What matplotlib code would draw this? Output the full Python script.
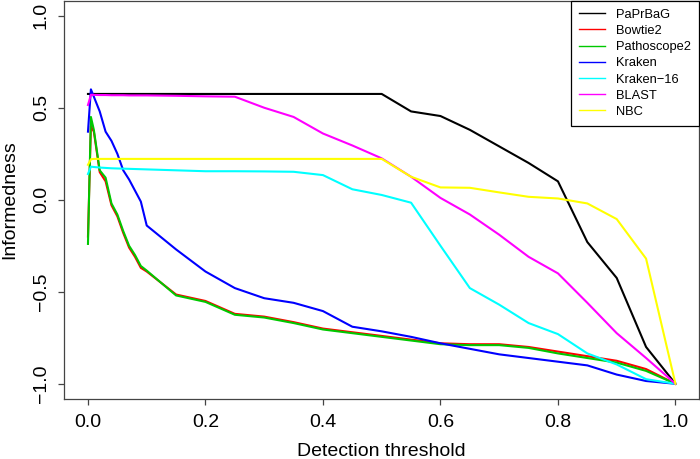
import matplotlib
matplotlib.use("Agg")
import matplotlib.pyplot as plt
from matplotlib.lines import Line2D

plt.rcParams['font.family'] = ['Liberation Sans', 'DejaVu Sans']

# detection thresholds (shared by all methods)
thr = [0, 0.005, 0.01, 0.02, 0.03, 0.04, 0.05, 0.06, 0.07, 0.08, 0.09, 0.1,
       0.15, 0.2, 0.25, 0.3, 0.35, 0.4, 0.45, 0.5, 0.55, 0.6, 0.65, 0.7,
       0.75, 0.8, 0.85, 0.9, 0.95, 1.0]

paprbag = [0.575, 0.575, 0.575, 0.575, 0.575, 0.575, 0.575, 0.575, 0.575, 0.575, 0.575, 0.575,
           0.575, 0.575, 0.575, 0.575, 0.575, 0.575, 0.575, 0.575, 0.48, 0.455, 0.38, 0.29,
           0.20, 0.10, -0.23, -0.425, -0.80, -1.0]
bowtie2 = [-0.20, 0.40, 0.37, 0.15, 0.10, -0.03, -0.09, -0.18, -0.26, -0.31, -0.37, -0.39,
           -0.515, -0.55, -0.62, -0.635, -0.665, -0.70, -0.72, -0.74, -0.76, -0.78, -0.785, -0.785,
           -0.80, -0.825, -0.85, -0.875, -0.92, -1.0]
pathoscope2 = [-0.24, 0.45, 0.38, 0.16, 0.12, -0.02, -0.08, -0.17, -0.25, -0.30, -0.36, -0.385,
               -0.52, -0.555, -0.625, -0.64, -0.67, -0.705, -0.725, -0.745, -0.765, -0.785, -0.79, -0.79,
               -0.805, -0.835, -0.86, -0.885, -0.93, -1.0]
kraken = [0.37, 0.60, 0.56, 0.48, 0.37, 0.32, 0.25, 0.16, 0.11, 0.05, -0.01, -0.14,
          -0.27, -0.39, -0.48, -0.535, -0.56, -0.605, -0.69, -0.715, -0.745, -0.78, -0.81, -0.84,
          -0.86, -0.88, -0.90, -0.95, -0.985, -1.0]
kraken16 = [0.14, 0.18, 0.178, 0.175, 0.173, 0.171, 0.17, 0.169, 0.168, 0.167, 0.166, 0.165,
            0.16, 0.155, 0.155, 0.154, 0.152, 0.134, 0.057, 0.026, -0.016, -0.25, -0.48, -0.57,
            -0.67, -0.73, -0.835, -0.895, -0.975, -1.0]
blast = [0.515, 0.57, 0.57, 0.569, 0.569, 0.568, 0.568, 0.568, 0.567, 0.567, 0.567, 0.567,
         0.565, 0.562, 0.56, 0.50, 0.45, 0.36, 0.295, 0.225, 0.125, 0.01, -0.08, -0.19,
         -0.31, -0.40, -0.56, -0.725, -0.86, -1.0]
nbc = [0.19, 0.22, 0.222, 0.222, 0.222, 0.222, 0.222, 0.222, 0.222, 0.222, 0.222, 0.222,
       0.222, 0.222, 0.222, 0.222, 0.222, 0.222, 0.222, 0.222, 0.125, 0.067, 0.065, 0.04,
       0.016, 0.007, -0.02, -0.105, -0.32, -1.0]

names = ["PaPrBaG", "Bowtie2", "Pathoscope2", "Kraken", "Kraken\u221216", "BLAST", "NBC"]
colors = ["black", "#FF0000", "#00C800", "#0000FF", "#00FFFF", "#FF00FF", "#FFFF00"]
series = [paprbag, bowtie2, pathoscope2, kraken, kraken16, blast, nbc]

fig = plt.figure(figsize=(7, 4.59), dpi=100)
ax = fig.add_axes([0.0921, 0.1318, 0.9064, 0.866])

for ys, c in zip(series, colors):
    ax.plot(thr, ys, color=c, lw=1.5)

ax.set_xlim(-0.04, 1.04)
ax.set_ylim(-1.08, 1.08)
ax.set_xticks([0, 0.2, 0.4, 0.6, 0.8, 1.0])
ax.set_xticklabels(["0.0", "0.2", "0.4", "0.6", "0.8", "1.0"])
ax.set_yticks([-1, -0.5, 0, 0.5, 1.0])
ax.set_yticklabels(["\u22121.0", "\u22120.5", "0.0", "0.5", "1.0"])
ax.tick_params(direction='out', length=4.5, width=0.9, color='#444444',
               labelsize=14, pad=7)
ax.tick_params(axis='y', labelrotation=90, pad=6)
for t in ax.get_yticklabels():
    t.set_va('center')
for s in ax.spines.values():
    s.set_color('#444444')
    s.set_linewidth(0.9)

ax.set_xlabel("Detection threshold", fontsize=14)
ax.set_ylabel("Informedness", fontsize=14)
ax.xaxis.set_label_coords(0.5, -0.112)
ax.yaxis.set_label_coords(-0.073, 0.5)

handles = [Line2D([], [], color=c, lw=1) for c in colors]
leg = ax.legend(handles, names, loc='upper right', fontsize=9.3, frameon=True,
                fancybox=False, borderaxespad=0, labelspacing=0.32,
                handlelength=2.0, handletextpad=0.9, borderpad=0.6)
leg.get_frame().set_edgecolor('black')
leg.get_frame().set_linewidth(0.9)
leg.get_frame().set_alpha(1)

fig.savefig("out.png", dpi=100)
